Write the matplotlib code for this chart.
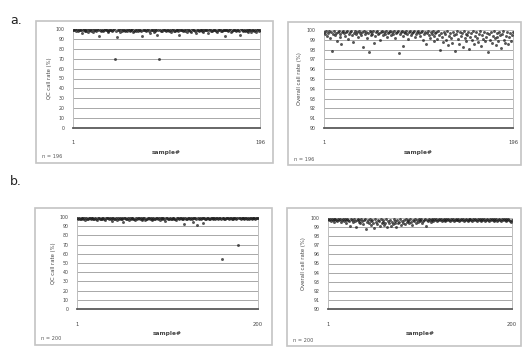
import matplotlib
matplotlib.use("Agg")
import matplotlib.pyplot as plt
from matplotlib.patches import Rectangle
import numpy as np

def parse(s):
    return [float(v) for v in s.split()]

# Panel a, left: QC call rate (%) for 196 samples
qc_a = parse("""
99.2 98.8 99.5 98.1 99.7 97.6 99.0 98.5 99.4 96.2 98.9 99.6 97.9 99.1 98.4 99.8 96.8 98.7 99.3 98.0
99.5 97.4 98.9 99.2 98.3 99.7 98.6 93.0 99.0 98.2 99.4 97.7 98.8 99.6 98.5 99.1 96.9 98.0 99.3 98.7
99.0 97.8 98.6 99.5 69.5 98.4 92.2 99.2 98.9 97.3 99.6 98.1 99.4 98.7 97.9 99.0 98.3 99.7 98.6 97.5
99.1 98.8 99.5 96.7 98.2 99.3 98.0 99.6 97.6 98.9 99.2 98.4 92.5 99.0 98.6 99.4 97.8 98.7 99.5 98.1
96.3 98.9 99.1 98.5 97.2 99.6 98.2 99.0 94.1 98.7 70.2 99.3 98.4 97.7 99.5 98.8 99.1 97.9 98.6 99.4
98.0 99.2 96.6 98.9 99.5 98.3 97.5 99.0 98.7 99.6 98.1 93.8 98.8 99.3 98.5 97.6 99.1 98.4 99.7 96.9
98.6 99.2 98.0 97.4 99.5 98.9 99.0 98.3 96.1 99.4 98.7 97.8 99.1 98.5 99.6 98.2 97.3 98.9 99.3 98.6
99.0 96.4 98.8 99.5 98.1 97.7 99.2 98.6 99.4 98.0 96.8 99.1 98.7 99.6 97.5 98.4 99.0 98.9 92.8 99.3
98.5 99.2 97.9 98.8 99.5 96.5 98.3 99.0 98.6 99.4 97.6 98.9 99.1 98.2 93.5 99.6 98.7 97.8 99.3 98.4
99.0 98.1 99.5 96.9 98.8 99.2 97.4 98.6 99.4 98.0 99.1 96.7 98.9 99.5 98.3 99.0
""")

# Panel a, right: Overall call rate (%) for 196 samples
ov_a = parse("""
99.8 99.6 99.9 99.4 99.7 99.9 99.2 99.8 97.9 99.6 99.9 99.5 99.7 98.9 99.8 99.9 99.3 99.6 98.6 99.8
99.9 99.7 99.4 99.8 99.9 99.1 99.6 99.8 99.9 99.5 98.8 99.7 99.9 99.6 99.8 99.3 99.9 99.7 99.5 99.8
98.3 99.9 99.6 99.8 99.2 99.7 97.8 99.9 99.5 99.8 99.6 99.9 98.7 99.4 99.8 99.9 99.6 99.7 99.0 99.8
99.9 99.5 99.8 99.6 99.9 99.3 99.7 99.8 99.9 99.5 99.8 99.6 99.9 99.2 99.7 99.8 99.9 97.7 99.6 99.8
99.9 99.4 98.4 99.8 99.7 99.9 99.6 99.1 99.8 99.9 99.5 99.7 99.8 99.9 99.3 99.6 99.8 99.9 99.7 99.4
99.8 99.9 99.0 99.6 99.8 98.6 99.7 99.9 99.5 99.2 99.8 99.6 99.9 98.9 99.4 99.7 99.8 99.1 99.9 99.5
98.0 99.7 99.3 98.8 99.8 99.6 99.0 99.9 98.5 99.4 99.7 99.2 98.7 99.8 99.5 97.9 99.6 99.9 99.1 98.6
99.8 99.4 99.7 98.3 99.9 99.2 99.6 98.9 99.5 99.8 98.1 99.3 99.7 99.0 99.9 98.6 99.4 99.8 99.2 98.8
99.6 99.9 98.4 99.5 99.1 99.8 98.9 99.3 99.7 97.8 99.6 99.0 99.8 98.7 99.4 99.9 99.2 98.5 99.7 99.3
98.9 99.8 99.5 98.2 99.6 99.9 99.0 98.7 99.4 99.8 98.6 99.3 99.7 98.9 99.5 99.8
""")

# Panel b, left: QC call rate (%) for 200 samples
qc_b = parse("""
98.6 97.9 99.0 98.2 97.5 98.8 99.2 97.8 98.4 96.9 98.9 98.1 97.6 99.1 98.5 97.3 98.7 99.0 98.0 97.7
98.9 98.3 96.5 99.2 98.6 97.9 98.1 99.0 97.4 98.7 98.2 97.0 98.8 99.1 98.4 97.6 98.9 98.0 95.8 98.5
99.0 97.8 98.3 98.8 96.2 98.6 97.5 99.1 98.2 97.9 98.7 94.8 98.4 99.0 97.7 98.1 98.9 96.8 98.5 97.4
98.8 99.2 97.9 98.3 96.6 98.7 97.6 99.0 98.4 97.8 98.9 98.1 97.2 99.1 98.6 96.4 98.2 97.9 98.8 98.4
97.6 99.0 98.3 96.9 98.7 98.1 97.5 99.2 98.5 97.8 98.9 96.3 98.4 99.0 97.7 98.6 98.2 95.9 98.8 99.1
98.3 97.6 98.9 98.0 97.4 99.1 98.6 97.9 98.2 96.8 98.7 99.0 97.5 98.4 98.9 98.1 97.8 99.2 92.0 98.6
98.3 97.9 98.8 99.0 97.6 98.5 98.2 94.5 98.9 99.1 98.4 97.7 91.0 98.7 98.1 99.0 97.8 98.5 94.0 98.9
99.1 98.3 97.9 98.7 99.0 98.2 97.6 98.8 99.2 98.4 97.8 98.9 98.1 99.0 98.5 97.7 98.8 99.1 98.3 54.8
98.7 99.0 98.2 97.9 98.6 99.1 98.4 97.8 98.9 99.0 98.3 98.7 97.6 99.2 98.5 98.0 98.8 70.0 99.0 98.4
98.1 98.9 99.1 98.6 97.9 98.8 99.0 98.3 98.7 97.8 99.2 98.5 98.1 98.9 99.0 98.4 97.9 98.8 99.1 98.6
""")

# Panel b, right: Overall call rate (%) for 200 samples
ov_b = parse("""
99.9 99.8 99.9 99.7 99.9 99.8 99.9 99.6 99.9 99.8 99.7 99.9 99.8 99.9 99.6 99.8 99.9 99.7 99.9 99.8
99.5 99.9 99.8 99.7 99.1 99.9 99.8 99.6 99.9 99.7 99.0 99.8 99.9 99.6 99.8 99.5 99.9 99.7 99.3 99.8
99.9 98.8 99.6 99.8 99.4 99.9 99.7 99.2 99.8 99.5 98.9 99.9 99.6 99.3 99.8 99.7 99.1 99.9 99.4 99.6
99.8 99.2 99.5 99.9 99.0 99.7 99.4 99.8 99.1 99.6 99.3 99.9 99.5 99.7 99.0 99.8 99.4 99.6 99.9 99.2
99.7 99.5 99.8 99.3 99.9 99.6 99.7 99.8 99.4 99.9 99.6 99.2 99.8 99.7 99.9 99.5 99.8 99.6 99.9 99.7
99.8 99.9 99.4 99.7 99.8 99.9 99.1 99.8 99.7 99.9 99.8 99.6 99.9 99.8 99.7 99.9 99.8 99.9 99.7 99.8
99.9 99.8 99.9 99.7 99.8 99.9 99.8 99.7 99.9 99.8 99.9 99.8 99.7 99.9 99.8 99.9 99.7 99.8 99.9 99.8
99.8 99.9 99.7 99.8 99.9 99.8 99.9 99.7 99.8 99.9 99.8 99.7 99.9 99.8 99.9 99.8 99.7 99.9 99.8 99.9
99.8 99.7 99.9 99.8 99.9 99.8 99.7 99.9 99.8 99.9 99.7 99.8 99.9 99.8 99.7 99.9 99.8 99.9 99.8 99.7
99.9 99.8 99.9 99.7 99.8 99.9 99.8 99.7 99.9 99.8 99.9 99.8 99.7 99.9 99.8 99.9 99.8 99.7 99.6 99.8
""")

panel_letters = ["a.", "b."]
y_labels = ["QC call rate (%)", "Overall call rate (%)"]
x_label = "sample#"
n_labels = ["n = 196", "n = 196", "n = 200", "n = 200"]
y_ticks_full = list(range(0, 101, 10))
y_ticks_zoom = list(range(90, 101, 1))

W, H = 523, 347
fig = plt.figure(figsize=(W / 100, H / 100), dpi=100)
fig.patch.set_facecolor("white")

def px_rect(x0, y0, x1, y1):
    return [x0 / W, 1 - y1 / H, (x1 - x0) / W, (y1 - y0) / H]

panels = [
    (qc_a, y_labels[0], y_ticks_full, (0, 100), (73, 29, 260, 128), (36, 21, 273, 163), n_labels[0]),
    (ov_a, y_labels[1], y_ticks_zoom, (90, 100), (324, 30, 513, 128), (288, 22, 521, 165), n_labels[1]),
    (qc_b, y_labels[0], y_ticks_full, (0, 100), (77, 217, 258, 309), (35, 208, 272, 345), n_labels[2]),
    (ov_b, y_labels[1], y_ticks_zoom, (90, 100), (328, 218, 512, 309), (287, 208, 521, 346), n_labels[3]),
]

for data, ylab, yticks, ylim, pbox, fbox, nlab in panels:
    fx0, fy0, fx1, fy1 = fbox
    fig.patches.append(Rectangle((fx0 / W, 1 - fy1 / H), (fx1 - fx0) / W, (fy1 - fy0) / H,
                                 transform=fig.transFigure, fill=False,
                                 edgecolor="#c4c4c4", linewidth=1.2))
    ax = fig.add_axes(px_rect(*pbox))
    n = len(data)
    x = np.arange(1, n + 1)
    ax.scatter(x, data, s=4.5, color="#1e1e1e", alpha=0.75, linewidths=0, zorder=3)
    ax.set_xlim(1, n)
    ax.set_ylim(*ylim)
    ax.set_yticks(yticks)
    ax.set_yticklabels([str(t) for t in yticks], fontsize=3.4, color="#444444")
    ax.set_xticks([1, n])
    ax.set_xticklabels(["1", str(n)], fontsize=3.8, color="#444444")
    ax.tick_params(axis="both", length=0)
    ax.tick_params(axis="y", pad=6)
    ax.tick_params(axis="x", pad=9)
    ax.grid(axis="y", color="#a8a8a8", linewidth=0.7)
    ax.set_axisbelow(True)
    for side in ["top", "left", "right"]:
        ax.spines[side].set_color("#bdbdbd")
        ax.spines[side].set_linewidth(0.7)
    ax.spines["bottom"].set_color("#5a5a5a")
    ax.spines["bottom"].set_linewidth(1.3)
    ax.set_ylabel(ylab, fontsize=3.8, color="#444444", labelpad=3)
    ax.set_xlabel(x_label, fontsize=4.2, fontweight="bold", color="#444444", labelpad=3)
    fig.text((fx0 + 6) / W, 1 - (fy1 - 6) / H, nlab, fontsize=3.6, color="#555555",
             ha="left", va="center")

fig.text(10 / W, 1 - 21 / H, panel_letters[0], fontsize=9, color="#222222", ha="left", va="center")
fig.text(10 / W, 1 - 181 / H, panel_letters[1], fontsize=9, color="#222222", ha="left", va="center")

fig.savefig("out.png", dpi=100, facecolor="white")
